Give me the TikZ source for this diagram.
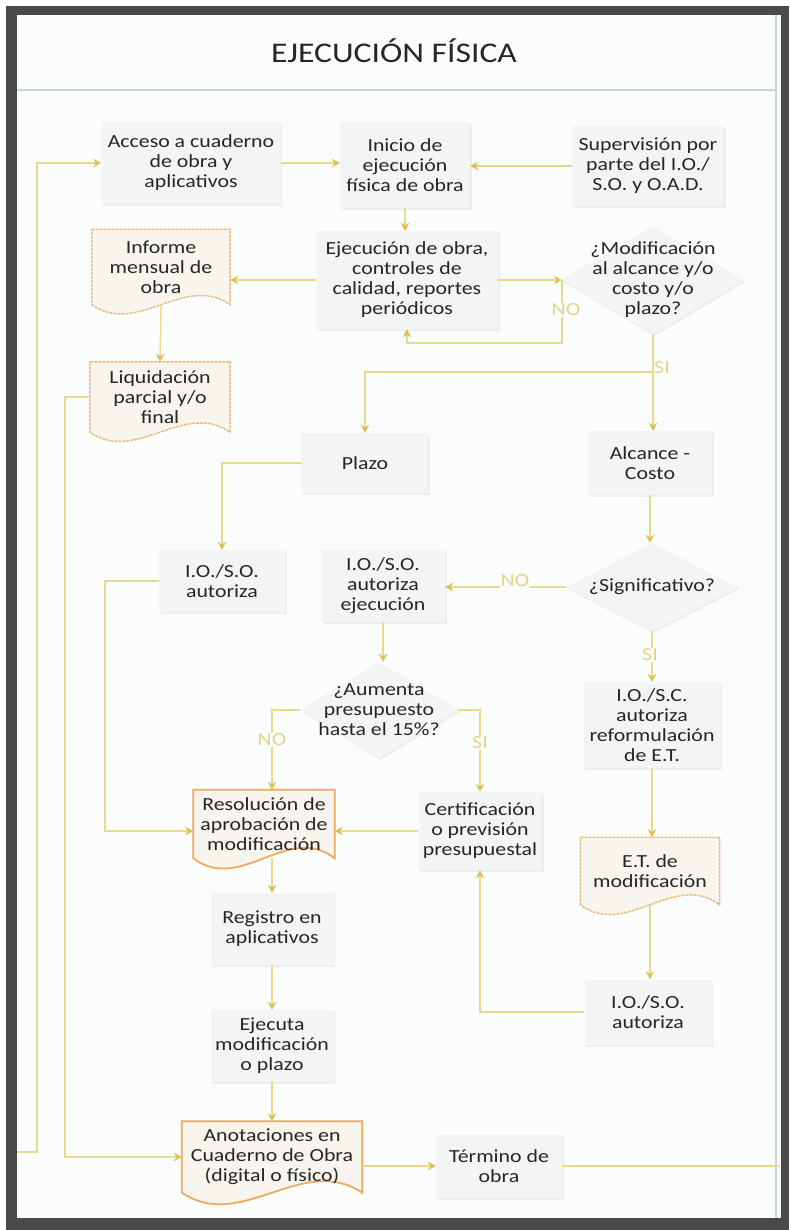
\documentclass[tikz,border=0pt]{standalone}
\usepackage{fontspec}
\setmainfont{Carlito}[FakeStretch=1.18]
\usetikzlibrary{shapes.geometric,arrows.meta,calc,shadows}
\definecolor{ln}{HTML}{E9D98C}
\definecolor{tip}{HTML}{DDBF55}
\definecolor{panel}{HTML}{FBFDFD}
\definecolor{boxf}{HTML}{F3F5F5}
\definecolor{framec}{HTML}{4A4A4A}
\definecolor{orng}{HTML}{EFA85C}
\definecolor{orngl}{HTML}{E6BD85}
\definecolor{docf}{HTML}{F8F5EF}
\definecolor{txt}{HTML}{262626}
\definecolor{lbl}{HTML}{E3D48A}
\definecolor{sepc}{HTML}{C9D5D5}
\pgfdeclarelayer{back}
\pgfdeclarelayer{mid}
\pgfsetlayers{back,mid,main}
\newcommand\docpath[3]{%
  \path[#2] (#1.north west) -- (#1.north east) -- (#1.south east)
   .. controls ($(#1.south east)!0.33!(#1.south west)+(0,-#3)$) and ($(#1.south east)!0.67!(#1.south west)+(0,#3)$) .. (#1.south west) -- cycle;}
\begin{document}
\begin{tikzpicture}[x=1pt,y=-1pt,
  every node/.style={font=\fontsize{18.5}{20}\selectfont, text=txt, align=center, inner sep=0pt},
  proc/.style={rectangle, fill=boxf, drop shadow={shadow xshift=1.5pt,shadow yshift=-2pt,opacity=0.12}},
  dec/.style={diamond, fill=boxf, drop shadow={shadow xshift=1.5pt,shadow yshift=-2pt,opacity=0.12}},
  docbody/.style={rectangle},
  docA/.style={draw=orngl, line width=1.5pt, fill=docf, dash pattern=on 3pt off 1pt},
  docB/.style={draw=orng, line width=1.8pt, fill=docf},
  conn/.style={draw=ln, line width=1.4pt},
  arr/.style={conn, -{Stealth[length=8pt,width=8.5pt,color=tip]}},
  lab/.style={text=lbl, fill=panel, inner sep=1pt}
]
\useasboundingbox (0,0) rectangle (789,1230);
% frame and panel
\begin{pgfonlayer}{back}
\fill[white] (0,0) rectangle (789,1230);
\fill[framec] (6,6) rectangle (789,1230);
\fill[panel] (17,15) rectangle (781,1218);
\draw[sepc, line width=2pt] (17,90) -- (776,90);
\draw[sepc, line width=1.5pt] (776,15) -- (776,1218);
\end{pgfonlayer}
\node[font=\fontsize{28.5}{30}\selectfont] (title) at (394,51) {EJECUCIÓN FÍSICA};

% row 1
\node[proc, minimum width=179pt, minimum height=82pt] (acceso) at (191,163) {Acceso a cuaderno\\de obra y\\aplicativos};
\node[proc, minimum width=130pt, minimum height=86pt] (inicio) at (405,165) {Inicio de\\ejecución\\física de obra};
\node[proc, minimum width=152pt, minimum height=80pt] (superv) at (648,166) {Supervisión por\\parte del I.O./\\S.O. y O.A.D.};

% row 2
\node[docbody, minimum width=138pt, minimum height=75pt] (informe) at (161,267) {Informe\\mensual de\\obra};
\node[proc, minimum width=182pt, minimum height=98pt] (ejec) at (407,280) {Ejecución de obra,\\controles de\\calidad, reportes\\periódicos};
\node[dec, minimum width=182pt, minimum height=108pt, label={center:{¿Modificación\\al alcance y/o\\costo y/o\\plazo?}}] (modif) at (653,280) {};

\node[docbody, minimum width=140pt, minimum height=70pt] (liquid) at (160,397) {Liquidación\\parcial y/o\\final};

\node[proc, minimum width=126pt, minimum height=60pt] (plazo) at (365,463) {Plazo};
\node[proc, minimum width=124pt, minimum height=64pt] (alcance) at (650,463) {Alcance -\\Costo};

\node[proc, minimum width=126pt, minimum height=62pt] (ioso1) at (222,581) {I.O./S.O.\\autoriza};
\node[proc, minimum width=124pt, minimum height=72pt] (iosoej) at (383,586) {I.O./S.O.\\autoriza\\ejecución};
\node[dec, minimum width=172pt, minimum height=88pt, label={center:{¿Significativo?}}] (signif) at (652,587) {};

\node[dec, minimum width=158pt, minimum height=96pt, label={center:{¿Aumenta\\presupuesto\\hasta el 15\%?}}] (aumenta) at (379,710) {};
\node[proc, minimum width=137pt, minimum height=86pt] (ioscref) at (652,725) {I.O./S.C.\\autoriza\\reformulación\\de E.T.};

\node[docbody, minimum width=141pt, minimum height=68pt] (resol) at (264,824) {Resolución de\\aprobación de\\modificación};
\node[proc, minimum width=124pt, minimum height=78pt] (certif) at (480,831) {Certificación\\o previsión\\presupuestal};
\node[docbody, minimum width=139pt, minimum height=67pt] (etmod) at (650,871) {E.T. de\\modificación};

\node[proc, minimum width=123pt, minimum height=72pt] (registro) at (272,929) {Registro en\\aplicativos};
\node[proc, minimum width=127pt, minimum height=65pt] (ioso3) at (648,1012) {I.O./S.O.\\autoriza};
\node[proc, minimum width=123pt, minimum height=72pt] (ejecuta) at (272,1046) {Ejecuta\\modificación\\o plazo};

\node[docbody, minimum width=180pt, minimum height=71pt] (anot) at (272,1157) {Anotaciones en\\Cuaderno de Obra\\(digital o físico)};
\node[proc, minimum width=126pt, minimum height=63pt] (termino) at (499,1166) {Término de\\obra};

% document outlines
\begin{pgfonlayer}{mid}
\docpath{informe}{docA}{32}
\docpath{liquid}{docA}{32}
\docpath{resol}{docB}{36}
\docpath{etmod}{docA}{34}
\docpath{anot}{docB}{40}
\end{pgfonlayer}

% coordinates
\coordinate (lb) at (17,1152);
\coordinate (rb) at (780,1166);
\coordinate (br1) at (653,372);

% connectors
\draw[arr] (lb) -- (37,1152) |- (acceso.west);
\draw[arr] (acceso.east) -- (acceso.east -| inicio.west);
\draw[arr] (superv.west) -- (superv.west -| inicio.east);
\draw[arr] (inicio.south) -- (inicio.south |- ejec.north);
\draw[arr] (ejec.west) -- (ejec.west -| informe.east);
\draw[arr] (ejec.east) -- (modif.west);
\draw[arr] (modif.west) -- ++(0,63) -| (ejec.south);
\draw[arr] (informe.south) -- (liquid.north);
\draw[arr] (liquid.west) -- ++(-25,0) |- (anot.west);
\draw[conn] (modif.south) -- (br1);
\draw[arr] (br1) -- (br1 |- alcance.north);
\draw[arr] (br1) -| (plazo.north);
\draw[arr] (plazo.west) -| (ioso1.north);
\draw[arr] (alcance.south) -- (alcance.south |- signif.north);
\draw[arr] (signif.west) -- (signif.west -| iosoej.east);
\draw[arr] (signif.south) -- (signif.south |- ioscref.north);
\draw[arr] (iosoej.south) -- (iosoej.south |- aumenta.north);
\draw[arr] (aumenta.west) -| (registro.north |- resol.north);
\draw[arr] (aumenta.east) -| (certif.north);
\draw[arr] (certif.west) -- (certif.west -| resol.east);
\draw[arr] (ioso1.west) -- ++(-54,0) |- (resol.west |- certif.west);
\draw[arr] (ioscref.south) -- (ioscref.south |- etmod.north);
\draw[arr] (etmod.south) -- (etmod.south |- ioso3.north);
\draw[arr] (ioso3.west) -| (certif.south);
\draw[arr] (registro.north |- resol.south) -- (registro.north);
\draw[arr] (registro.south) -- (ejecuta.north);
\draw[arr] (ejecuta.south) -- (ejecuta.south |- anot.north);
\draw[arr] (anot.east |- termino.west) -- (termino.west);
\draw[conn] (termino.east) -- (rb);

% labels
\node[lab] (no1) at (566,310) {NO};
\node[lab, fill=none] (si1) at (662,368) {SI};
\node[lab] (no2) at (515,581) {NO};
\node[lab] (si2) at (650,655) {SI};
\node[lab] (no3) at (272,740) {NO};
\node[lab] (si3) at (480,743) {SI};
\end{tikzpicture}
\end{document}
